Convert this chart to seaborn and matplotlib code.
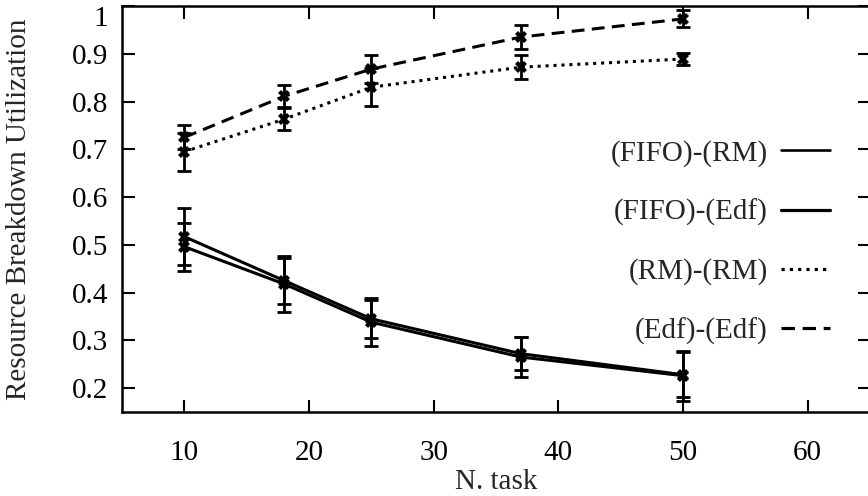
import pandas as pd
import seaborn as sns
import matplotlib.pyplot as plt
from matplotlib.lines import Line2D

# data
n_task = [10, 18, 25, 37, 50]
series = ["(FIFO)-(RM)", "(FIFO)-(Edf)", "(RM)-(RM)", "(Edf)-(Edf)"]
fifo_rm = [0.517, 0.425, 0.345, 0.272, 0.228]
fifo_edf = [0.496, 0.418, 0.338, 0.265, 0.226]
rm_rm = [0.695, 0.763, 0.830, 0.872, 0.889]
edf_edf = [0.725, 0.811, 0.868, 0.935, 0.973]
err_fifo_rm = [0.060, 0.048, 0.040, 0.035, 0.047]
err_fifo_edf = [0.050, 0.058, 0.050, 0.042, 0.052]
err_rm_rm = [0.040, 0.023, 0.040, 0.025, 0.012]
err_edf_edf = [0.025, 0.023, 0.030, 0.025, 0.018]
y_ticks = [0.2, 0.3, 0.4, 0.5, 0.6, 0.7, 0.8, 0.9, 1.0]
y_labels = ["0.2", "0.3", "0.4", "0.5", "0.6", "0.7", "0.8", "0.9", "1"]

values = [fifo_rm, fifo_edf, rm_rm, edf_edf]
errors = [err_fifo_rm, err_fifo_edf, err_rm_rm, err_edf_edf]

rows = []
for name, vals, errs in zip(series, values, errors):
    for n, v, e in zip(n_task, vals, errs):
        rows.append({"n": n, "util": v, "err": e, "series": name})
df = pd.DataFrame(rows)

sns.set_theme(style="ticks")
plt.rcParams["font.family"] = ["Liberation Serif", "DejaVu Serif"]

fig = plt.figure(figsize=(8.68, 4.96), dpi=100)
ax = fig.add_axes([0.1406, 0.1694, 0.8618, 0.8185])

dash_map = {
    "(FIFO)-(RM)": "",
    "(FIFO)-(Edf)": "",
    "(RM)-(RM)": (1.0, 1.6),
    "(Edf)-(Edf)": (4.2, 2.4),
}
width_map = {"(FIFO)-(RM)": 1.9, "(FIFO)-(Edf)": 2.3, "(RM)-(RM)": 2.3, "(Edf)-(Edf)": 2.3}

sns.lineplot(data=df, x="n", y="util", hue="series", style="series",
             palette=["black"] * 4, dashes=dash_map, markers=["X"] * 4,
             markersize=9, markeredgewidth=0, linewidth=2.2,
             legend=False, ax=ax)

for name in series:
    sub = df[df["series"] == name]
    ax.errorbar(sub["n"], sub["util"], yerr=sub["err"], fmt="none",
                ecolor="black", elinewidth=2.0, capsize=5, capthick=2.0)

ax.set_xlim(5, 65)
ax.set_ylim(0.15, 1.0)
ax.set_xticks([10, 20, 30, 40, 50, 60])
ax.set_yticks(y_ticks)
ax.set_yticklabels(y_labels)
ax.tick_params(direction="in", length=9, width=1.5, labelsize=21,
               top=True, right=True, colors="black")
ax.tick_params(axis="x", pad=20)
ax.tick_params(axis="y", pad=10)
ax.get_yticklabels()[-1].set_va("top")
for sp in ax.spines.values():
    sp.set_linewidth(1.8)
    sp.set_color("black")

ax.set_xlabel("N. task", fontsize=21, labelpad=2)
ax.set_ylabel("Resource Breakdown Utilization", fontsize=21)
ax.yaxis.set_label_coords(-0.12, 0.5)

handles = [Line2D([], [], color="black", linewidth=width_map[s],
                  linestyle="-" if dash_map[s] == "" else (0, dash_map[s]))
           for s in series]
ax.legend(handles, series, loc="upper right", bbox_to_anchor=(0.947, 0.67),
          frameon=False, markerfirst=False, fontsize=21, handlelength=1.7,
          handletextpad=0.45, labelspacing=1.1, borderpad=0, borderaxespad=0)

fig.savefig("out.png", dpi=100)
